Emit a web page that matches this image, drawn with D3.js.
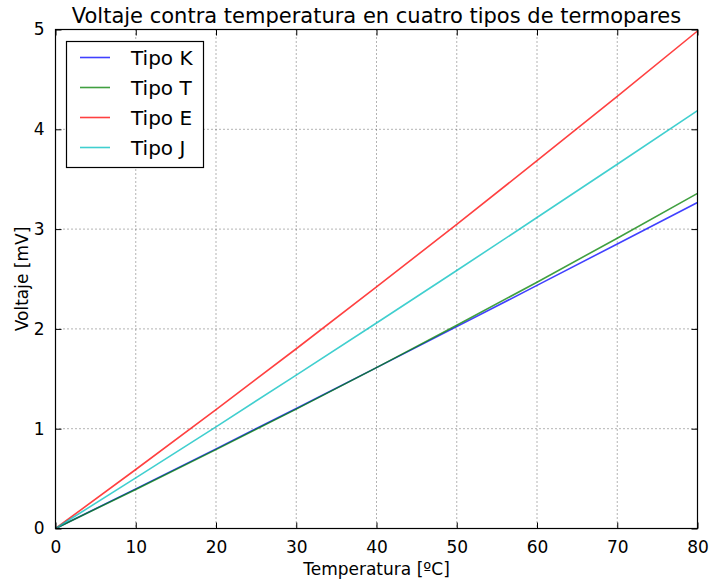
<!DOCTYPE html>
<html>
<head>
<meta charset="utf-8">
<script src="https://cdn.jsdelivr.net/npm/d3@7"></script>
<style>
  body { margin: 0; background: #fff; }
  svg { display: block; font-family: "DejaVu Sans", sans-serif; }
</style>
</head>
<body>
<svg id="chart" width="709" height="582"></svg>
<script>
// Temperatura (ºC) y voltaje (mV) para cada tipo de termopar
const temperaturas = [0, 10, 20, 30, 40, 50, 60, 70, 80];
const tipoK = [0, 0.397, 0.798, 1.203, 1.612, 2.023, 2.436, 2.851, 3.267];
const tipoT = [0, 0.391, 0.790, 1.196, 1.612, 2.036, 2.468, 2.909, 3.358];
const tipoE = [0, 0.591, 1.192, 1.801, 2.420, 3.048, 3.685, 4.330, 4.985];
const tipoJ = [0, 0.507, 1.019, 1.537, 2.059, 2.585, 3.116, 3.650, 4.187];
const nombres = ["Tipo K", "Tipo T", "Tipo E", "Tipo J"];
const colores = ["#0000ff", "#008000", "#ff0000", "#00bfbf"];
const xTicks = [0, 10, 20, 30, 40, 50, 60, 70, 80];
const yTicks = [0, 1, 2, 3, 4, 5];

const series = [tipoK, tipoT, tipoE, tipoJ].map((v, i) => ({
  nombre: nombres[i], color: colores[i],
  puntos: temperaturas.map((t, j) => [t, v[j]])
}));

const svg = d3.select("#chart");
const m = { left: 55.5, right: 697.5, top: 29.5, bottom: 528.5 };

const x = d3.scaleLinear().domain([0, 80]).range([m.left, m.right]);
const y = d3.scaleLinear().domain([0, 5]).range([m.bottom, m.top]);

// Rejilla punteada
const grid = svg.append("g");
grid.selectAll(".gx").data(xTicks.slice(1, -1)).join("line")
  .attr("x1", d => x(d)).attr("x2", d => x(d))
  .attr("y1", m.top).attr("y2", m.bottom)
  .attr("stroke", "#000").attr("stroke-width", 0.6).attr("stroke-dasharray", "1,3");
grid.selectAll(".gy").data(yTicks.slice(1, -1)).join("line")
  .attr("x1", m.left).attr("x2", m.right)
  .attr("y1", d => y(d)).attr("y2", d => y(d))
  .attr("stroke", "#000").attr("stroke-width", 0.6).attr("stroke-dasharray", "1,3");

// Curvas
const linea = d3.line().x(d => x(d[0])).y(d => y(d[1]));
svg.append("g").selectAll("path").data(series).join("path")
  .attr("d", d => linea(d.puntos))
  .attr("fill", "none")
  .attr("stroke", d => d.color)
  .attr("stroke-opacity", 0.75)
  .attr("stroke-width", 1.6);

// Ejes con marcas hacia dentro
const fontSize = 17;
const fmt = d3.format("d");
function estiloEje(g) {
  g.select(".domain").remove();
  g.selectAll("text").attr("font-size", fontSize).attr("fill", "#000")
    .attr("font-family", "DejaVu Sans, sans-serif");
  g.selectAll("line").attr("stroke", "#000");
}
svg.append("g").attr("transform", `translate(0,${m.bottom})`)
  .call(d3.axisBottom(x).tickValues(xTicks).tickFormat(fmt).tickSizeInner(-6).tickSizeOuter(0).tickPadding(12))
  .call(estiloEje);
svg.append("g").attr("transform", `translate(0,${m.top})`)
  .call(d3.axisTop(x).tickValues(xTicks).tickSizeInner(-6).tickSizeOuter(0).tickFormat(""))
  .call(estiloEje);
svg.append("g").attr("transform", `translate(${m.left},0)`)
  .call(d3.axisLeft(y).tickValues(yTicks).tickFormat(fmt).tickSizeInner(-6).tickSizeOuter(0).tickPadding(11))
  .call(estiloEje);
svg.append("g").attr("transform", `translate(${m.right},0)`)
  .call(d3.axisRight(y).tickValues(yTicks).tickSizeInner(-6).tickSizeOuter(0).tickFormat(""))
  .call(estiloEje);

// Marco
svg.append("rect")
  .attr("x", m.left).attr("y", m.top)
  .attr("width", m.right - m.left).attr("height", m.bottom - m.top)
  .attr("fill", "none").attr("stroke", "#000").attr("stroke-width", 1.2);

// Títulos
svg.append("text").attr("x", (m.left + m.right) / 2).attr("y", 23)
  .attr("text-anchor", "middle").attr("font-size", 21)
  .text("Voltaje contra temperatura en cuatro tipos de termopares");
svg.append("text").attr("x", (m.left + m.right) / 2).attr("y", 575)
  .attr("text-anchor", "middle").attr("font-size", fontSize)
  .text("Temperatura [ºC]");
svg.append("text")
  .attr("transform", `translate(28,${(m.top + m.bottom) / 2}) rotate(-90)`)
  .attr("text-anchor", "middle").attr("font-size", fontSize)
  .text("Voltaje [mV]");

// Leyenda
const ley = svg.append("g");
ley.append("rect").attr("x", 66.5).attr("y", 41.5).attr("width", 137).attr("height", 126)
  .attr("fill", "#fff").attr("stroke", "#000").attr("stroke-width", 1.2);
const items = ley.selectAll(".item").data(series).join("g")
  .attr("transform", (d, i) => `translate(0,${57.5 + i * 30})`);
items.append("line").attr("x1", 80).attr("x2", 110)
  .attr("stroke", d => d.color).attr("stroke-opacity", 0.75).attr("stroke-width", 1.6);
items.append("text").attr("x", 131).attr("y", 7).attr("font-size", 20)
  .text(d => d.nombre);
</script>
</body>
</html>
